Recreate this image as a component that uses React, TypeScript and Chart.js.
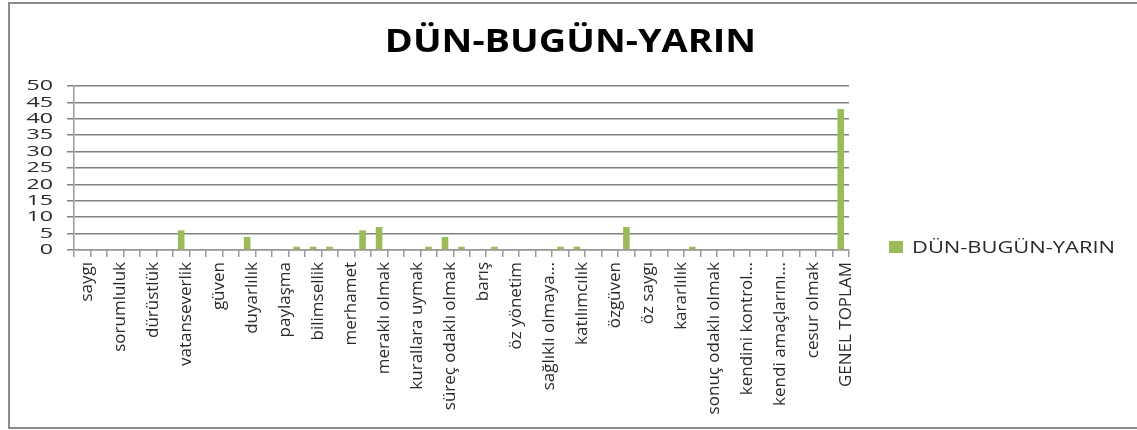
import React, { useEffect, useRef } from "react";
import { Chart, registerables } from "chart.js";

Chart.register(...registerables);

const chartTitle = "DÜN-BUGÜN-YARIN";
const seriesName = "DÜN-BUGÜN-YARIN";

// 47 categories; only every other one is labelled on the axis (as in the source)
const categories = [
  "saygı", "sevgi", "sorumluluk", "adalet", "dürüstlük", "dostluk",
  "vatanseverlik", "yardımseverlik", "güven", "sabır", "duyarlılık", "hoşgörü",
  "paylaşma", "çalışkanlık", "bilimsellik", "estetik", "merhamet", "özgürlük",
  "meraklı olmak", "temizlik", "kurallara uymak", "tasarruf", "süreç odaklı olmak", "iş birliği",
  "barış", "empati", "öz yönetim", "liderlik", "sağlıklı olmaya...", "girişimcilik",
  "katılımcılık", "yaratıcılık", "özgüven", "eleştirel düşünme", "öz saygı", "iletişim",
  "kararlılık", "problem çözme", "sonuç odaklı olmak", "açık fikirlilik", "kendini kontrol...", "bağımsızlık",
  "kendi amaçlarını...", "sabırlı olmak", "cesur olmak", "azimli olmak", "GENEL TOPLAM",
];

const values = [
  0, 0, 0, 0, 0, 0,
  6, 0, 0, 0, 4, 0,
  0, 1, 1, 1, 0, 6,
  7, 0, 0, 1, 4, 1,
  0, 1, 0, 0, 0, 1,
  1, 0, 0, 7, 0, 0,
  0, 1, 0, 0, 0, 0,
  0, 0, 0, 0, 43,
];

const yMin = 0;
const yMax = 50;
const yStep = 5;

const barColor = "#9bbb59";
const axisColor = "#9a9a9a";
const gridLineColor = "#808080";
const textColor = "#2a2a2a";

const sideLegend = {
  id: "sideLegend",
  afterDraw(chart: any) {
    const ctx = chart.ctx;
    const ds = chart.data.datasets[0];
    const area = chart.chartArea;
    const sqX = area.right + 40;
    const sqY = area.bottom - 9;
    ctx.save();
    ctx.fillStyle = ds.backgroundColor;
    ctx.fillRect(sqX, sqY, 14, 12);
    ctx.font = "16px 'Open Sans'";
    ctx.fillStyle = textColor;
    ctx.textBaseline = "alphabetic";
    ctx.textAlign = "left";
    const w = ctx.measureText(ds.label).width;
    const s = 203 / w;
    const tx = sqX + 23;
    ctx.translate(tx, 0);
    ctx.scale(s, 1);
    ctx.fillText(ds.label, 0, sqY + 11.5);
    ctx.restore();
  },
};

export default function App() {
  const ref = useRef<HTMLCanvasElement | null>(null);

  useEffect(() => {
    if (!ref.current) return;
    const chart: any = new Chart(ref.current, {
      type: "bar",
      data: {
        labels: categories,
        datasets: [
          {
            label: seriesName,
            data: values,
            backgroundColor: barColor,
            borderWidth: 0,
            barPercentage: 0.4,
            categoryPercentage: 1.0,
          },
        ],
      },
      options: {
        responsive: false,
        animation: false,
        layout: { padding: { left: 0, right: 288, top: 0, bottom: 0 } },
        plugins: {
          legend: { display: false },
          tooltip: { enabled: false },
          title: {
            display: true,
            text: chartTitle,
            color: "#000",
            font: { family: "'Open Sans'", size: 32, weight: "bold" },
            padding: { top: 20, bottom: 23.6 },
          },
        },
        scales: {
          x: {
            type: "category",
            offset: true,
            afterFit(scale: any) {
              scale.height = 177;
            },
            grid: {
              display: true,
              drawOnChartArea: false,
              drawTicks: true,
              tickLength: 7,
              lineWidth: 1.5,
              color: axisColor,
              offset: true,
            },
            border: { display: true, color: axisColor, width: 1.5 },
            ticks: {
              autoSkip: false,
              minRotation: 90,
              maxRotation: 90,
              padding: 5,
              labelOffset: 5,
              color: textColor,
              font: { family: "'Open Sans'", size: 17 },
              callback: (_v: any, i: number) => (i % 2 === 0 ? categories[i] : ""),
            },
          },
          y: {
            type: "linear",
            min: yMin,
            max: yMax,
            afterFit(scale: any) {
              scale.width = 64;
            },
            grid: {
              display: true,
              drawOnChartArea: true,
              color: gridLineColor,
              lineWidth: 1.5,
              tickLength: 7,
              drawTicks: true,
            },
            border: { display: true, color: axisColor, width: 1.5 },
            ticks: {
              stepSize: yStep,
              autoSkip: false,
              padding: 14,
              color: textColor,
              font: { family: "'Open Sans'", size: 15 },
            },
          },
        },
      },
      plugins: [sideLegend],
    });

    // horizontal stretch of y tick labels (source text is rendered wide)
    const yScale: any = chart.scales.y;
    const origY = yScale.drawLabels.bind(yScale);
    yScale.drawLabels = (a: any) => {
      const ctx = chart.ctx;
      const ax = yScale.right - 7 - 14;
      ctx.save();
      ctx.translate(ax, 0);
      ctx.scale(1.55, 1);
      ctx.translate(-ax, 0);
      origY(a);
      ctx.restore();
    };

    const tb: any = chart.titleBlock;
    const origT = tb.draw.bind(tb);
    tb.draw = (a: any) => {
      const ctx = chart.ctx;
      const cur = (tb.left + tb.right) / 2;
      ctx.save();
      ctx.translate(560.5, 0);
      ctx.scale(1.185, 1);
      ctx.translate(-cur, 0);
      origT(a);
      ctx.restore();
    };

    chart.draw();
    return () => chart.destroy();
  }, []);

  return (
    <div
      style={{
        position: "absolute",
        left: 0,
        top: 0,
        width: 1137,
        height: 430,
        overflow: "hidden",
        background: "#fff",
      }}
    >
      <div
        style={{
          position: "absolute",
          left: 8,
          top: 2,
          width: 1160,
          height: 423,
          border: "2px solid #8c8c8c",
        }}
      />
      <canvas
        ref={ref}
        width={1127}
        height={423}
        style={{ position: "absolute", left: 10, top: 4 }}
      />
    </div>
  );
}
